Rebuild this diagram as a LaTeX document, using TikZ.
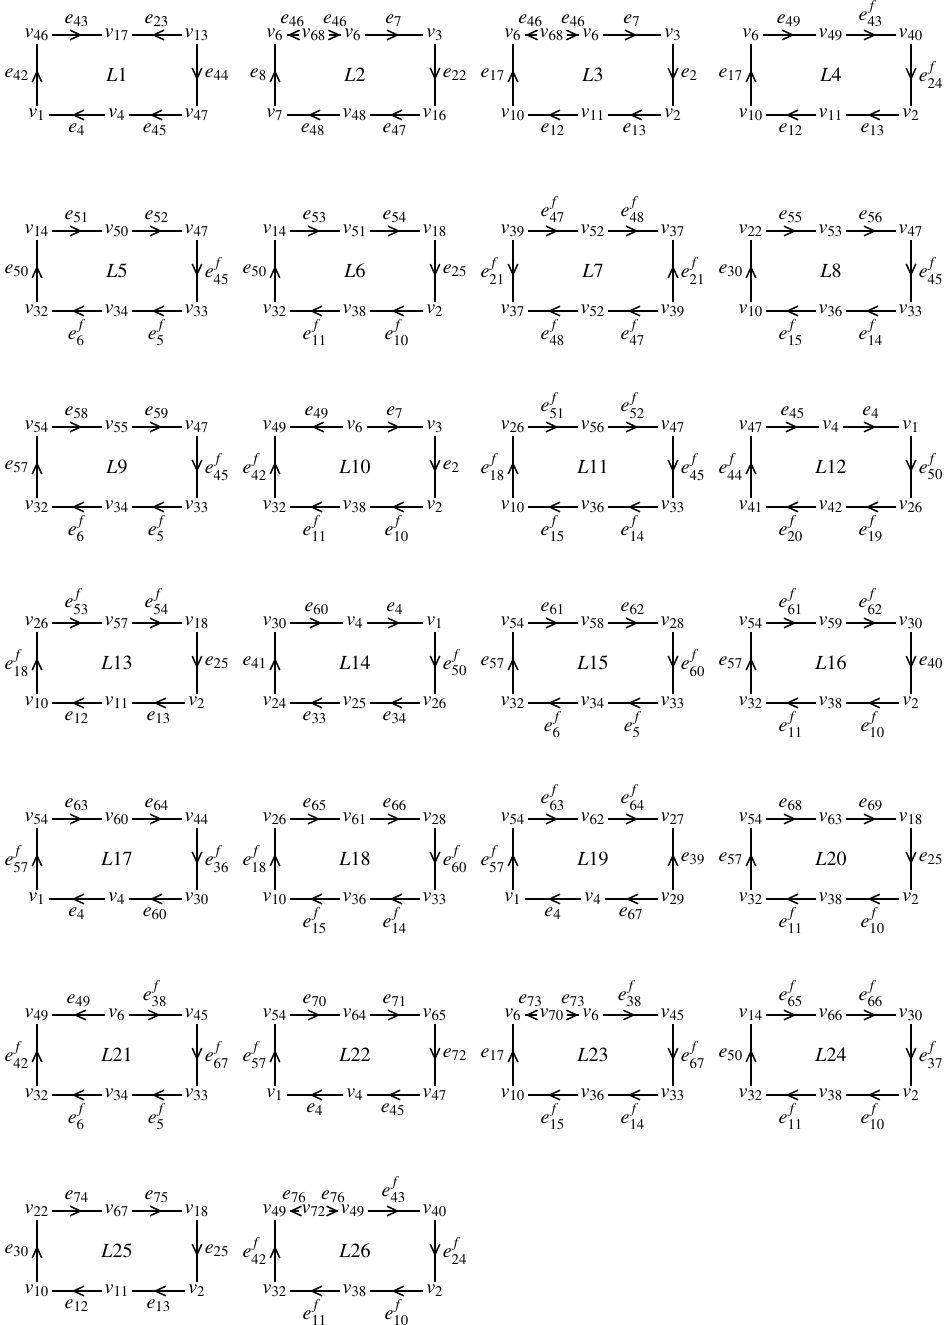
\documentclass[tikz,border=0pt]{standalone}
\usepackage{mathptmx}
\usetikzlibrary{arrows.meta,decorations.markings}
\tikzset{
  vn/.style={inner sep=1.5pt, outer sep=0pt},
  lname/.style={inner sep=0pt},
  elab/.style={inner sep=3.5pt},
  tlab/.style={above, inner sep=3.8pt},
  blab/.style={below, inner sep=3.8pt},
  ed/.style={line width=0.75pt, postaction={decorate},
    decoration={markings, mark=at position 0.5 with {\arrow[xshift=2.6pt]{Straight Barb[length=5.2pt,width=4.8pt,line width=0.75pt]}}}},
}
\newcommand\lpTop[3]{%
  \node[vn] (tl) at (0,0) {$#1$};
  \node[vn] (tm) at (80,0) {$#2$};
  \node[vn] (tr) at (160,0) {$#3$};}
\newcommand\lpTopx[4]{%
  \node[vn] (tl) at (0,0) {$#1$};
  \node[vn] (tx) at (39,0) {$#2$};
  \node[vn] (tm) at (78,0) {$#3$};
  \node[vn] (tr) at (160,0) {$#4$};}
\newcommand\lpBot[4]{%
  \node[vn] (bl) at (0,80) {$#2$};
  \node[vn] (bm) at (80,80) {$#3$};
  \node[vn] (br) at (160,80) {$#4$};
  \node[lname] (c) at (80,40) {$#1$};}
\newcommand\lpEd[4]{\draw[ed] (#1) -- node[elab,#3]{$#4$} (#2);}
\newcommand\lpStd[6]{%
  \lpEd{tl}{tm}{tlab}{#1}\lpEd{tm}{tr}{tlab}{#2}\lpEd{tr}{br}{right}{#3}%
  \lpEd{br}{bm}{blab}{#4}\lpEd{bm}{bl}{blab}{#5}\lpEd{bl}{tl}{left}{#6}}
\newcommand\lpLow[4]{%
  \lpEd{tr}{br}{right}{#1}\lpEd{br}{bm}{blab}{#2}\lpEd{bm}{bl}{blab}{#3}\lpEd{bl}{tl}{left}{#4}}
\begin{document}
\begin{tikzpicture}[x=0.5pt,y=-0.5pt]
\useasboundingbox (0,0) rectangle (945,1325);
% Row 1
\begin{scope}[shift={(37,35)},name prefix=L1-]
  \lpTop{v_{46}}{v_{17}}{v_{13}}\lpBot{L1}{v_1}{v_4}{v_{47}}
  \lpEd{tl}{tm}{tlab}{e_{43}}\lpEd{tr}{tm}{tlab}{e_{23}}
  \lpLow{e_{44}}{e_{45}}{e_4}{e_{42}}
\end{scope}
\begin{scope}[shift={(275,35)},name prefix=L2-]
  \lpTopx{v_6}{v_{68}}{v_6}{v_3}\lpBot{L2}{v_7}{v_{48}}{v_{16}}
  \lpEd{tx}{tl}{tlab}{e_{46}}\lpEd{tx}{tm}{tlab}{e_{46}}\lpEd{tm}{tr}{tlab}{e_7}
  \lpLow{e_{22}}{e_{47}}{e_{48}}{e_8}
\end{scope}
\begin{scope}[shift={(513,35)},name prefix=L3-]
  \lpTopx{v_6}{v_{68}}{v_6}{v_3}\lpBot{L3}{v_{10}}{v_{11}}{v_2}
  \lpEd{tx}{tl}{tlab}{e_{46}}\lpEd{tx}{tm}{tlab}{e_{46}}\lpEd{tm}{tr}{tlab}{e_7}
  \lpLow{e_2}{e_{13}}{e_{12}}{e_{17}}
\end{scope}
\begin{scope}[shift={(751,35)},name prefix=L4-]
  \lpTop{v_6}{v_{49}}{v_{40}}\lpBot{L4}{v_{10}}{v_{11}}{v_2}
  \lpStd{e_{49}}{e^f_{43}}{e^f_{24}}{e_{13}}{e_{12}}{e_{17}}
\end{scope}
% Row 2
\begin{scope}[shift={(37,231)},name prefix=L5-]
  \lpTop{v_{14}}{v_{50}}{v_{47}}\lpBot{L5}{v_{32}}{v_{34}}{v_{33}}
  \lpStd{e_{51}}{e_{52}}{e^f_{45}}{e^f_5}{e^f_6}{e_{50}}
\end{scope}
\begin{scope}[shift={(275,231)},name prefix=L6-]
  \lpTop{v_{14}}{v_{51}}{v_{18}}\lpBot{L6}{v_{32}}{v_{38}}{v_2}
  \lpStd{e_{53}}{e_{54}}{e_{25}}{e^f_{10}}{e^f_{11}}{e_{50}}
\end{scope}
\begin{scope}[shift={(513,231)},name prefix=L7-]
  \lpTop{v_{39}}{v_{52}}{v_{37}}\lpBot{L7}{v_{37}}{v_{52}}{v_{39}}
  \lpEd{tl}{tm}{tlab}{e^f_{47}}\lpEd{tm}{tr}{tlab}{e^f_{48}}
  \lpEd{br}{tr}{right}{e^f_{21}}\lpEd{br}{bm}{blab}{e^f_{47}}
  \lpEd{bm}{bl}{blab}{e^f_{48}}\lpEd{tl}{bl}{left}{e^f_{21}}
\end{scope}
\begin{scope}[shift={(751,231)},name prefix=L8-]
  \lpTop{v_{22}}{v_{53}}{v_{47}}\lpBot{L8}{v_{10}}{v_{36}}{v_{33}}
  \lpStd{e_{55}}{e_{56}}{e^f_{45}}{e^f_{14}}{e^f_{15}}{e_{30}}
\end{scope}
% Row 3
\begin{scope}[shift={(37,427)},name prefix=L9-]
  \lpTop{v_{54}}{v_{55}}{v_{47}}\lpBot{L9}{v_{32}}{v_{34}}{v_{33}}
  \lpStd{e_{58}}{e_{59}}{e^f_{45}}{e^f_5}{e^f_6}{e_{57}}
\end{scope}
\begin{scope}[shift={(275,427)},name prefix=L10-]
  \lpTop{v_{49}}{v_6}{v_3}\lpBot{L10}{v_{32}}{v_{38}}{v_2}
  \lpEd{tm}{tl}{tlab}{e_{49}}\lpEd{tm}{tr}{tlab}{e_7}
  \lpLow{e_2}{e^f_{10}}{e^f_{11}}{e^f_{42}}
\end{scope}
\begin{scope}[shift={(513,427)},name prefix=L11-]
  \lpTop{v_{26}}{v_{56}}{v_{47}}\lpBot{L11}{v_{10}}{v_{36}}{v_{33}}
  \lpStd{e^f_{51}}{e^f_{52}}{e^f_{45}}{e^f_{14}}{e^f_{15}}{e^f_{18}}
\end{scope}
\begin{scope}[shift={(751,427)},name prefix=L12-]
  \lpTop{v_{47}}{v_4}{v_1}\lpBot{L12}{v_{41}}{v_{42}}{v_{26}}
  \lpStd{e_{45}}{e_4}{e^f_{50}}{e^f_{19}}{e^f_{20}}{e^f_{44}}
\end{scope}
% Row 4
\begin{scope}[shift={(37,623)},name prefix=L13-]
  \lpTop{v_{26}}{v_{57}}{v_{18}}\lpBot{L13}{v_{10}}{v_{11}}{v_2}
  \lpStd{e^f_{53}}{e^f_{54}}{e_{25}}{e_{13}}{e_{12}}{e^f_{18}}
\end{scope}
\begin{scope}[shift={(275,623)},name prefix=L14-]
  \lpTop{v_{30}}{v_4}{v_1}\lpBot{L14}{v_{24}}{v_{25}}{v_{26}}
  \lpStd{e_{60}}{e_4}{e^f_{50}}{e_{34}}{e_{33}}{e_{41}}
\end{scope}
\begin{scope}[shift={(513,623)},name prefix=L15-]
  \lpTop{v_{54}}{v_{58}}{v_{28}}\lpBot{L15}{v_{32}}{v_{34}}{v_{33}}
  \lpStd{e_{61}}{e_{62}}{e^f_{60}}{e^f_5}{e^f_6}{e_{57}}
\end{scope}
\begin{scope}[shift={(751,623)},name prefix=L16-]
  \lpTop{v_{54}}{v_{59}}{v_{30}}\lpBot{L16}{v_{32}}{v_{38}}{v_2}
  \lpStd{e^f_{61}}{e^f_{62}}{e_{40}}{e^f_{10}}{e^f_{11}}{e_{57}}
\end{scope}
% Row 5
\begin{scope}[shift={(37,819)},name prefix=L17-]
  \lpTop{v_{54}}{v_{60}}{v_{44}}\lpBot{L17}{v_1}{v_4}{v_{30}}
  \lpStd{e_{63}}{e_{64}}{e^f_{36}}{e_{60}}{e_4}{e^f_{57}}
\end{scope}
\begin{scope}[shift={(275,819)},name prefix=L18-]
  \lpTop{v_{26}}{v_{61}}{v_{28}}\lpBot{L18}{v_{10}}{v_{36}}{v_{33}}
  \lpStd{e_{65}}{e_{66}}{e^f_{60}}{e^f_{14}}{e^f_{15}}{e^f_{18}}
\end{scope}
\begin{scope}[shift={(513,819)},name prefix=L19-]
  \lpTop{v_{54}}{v_{62}}{v_{27}}\lpBot{L19}{v_1}{v_4}{v_{29}}
  \lpEd{tl}{tm}{tlab}{e^f_{63}}\lpEd{tm}{tr}{tlab}{e^f_{64}}
  \lpEd{br}{tr}{right}{e_{39}}\lpEd{br}{bm}{blab}{e_{67}}
  \lpEd{bm}{bl}{blab}{e_4}\lpEd{bl}{tl}{left}{e^f_{57}}
\end{scope}
\begin{scope}[shift={(751,819)},name prefix=L20-]
  \lpTop{v_{54}}{v_{63}}{v_{18}}\lpBot{L20}{v_{32}}{v_{38}}{v_2}
  \lpStd{e_{68}}{e_{69}}{e_{25}}{e^f_{10}}{e^f_{11}}{e_{57}}
\end{scope}
% Row 6
\begin{scope}[shift={(37,1015)},name prefix=L21-]
  \lpTop{v_{49}}{v_6}{v_{45}}\lpBot{L21}{v_{32}}{v_{34}}{v_{33}}
  \lpEd{tm}{tl}{tlab}{e_{49}}\lpEd{tm}{tr}{tlab}{e^f_{38}}
  \lpLow{e^f_{67}}{e^f_5}{e^f_6}{e^f_{42}}
\end{scope}
\begin{scope}[shift={(275,1015)},name prefix=L22-]
  \lpTop{v_{54}}{v_{64}}{v_{65}}\lpBot{L22}{v_1}{v_4}{v_{47}}
  \lpStd{e_{70}}{e_{71}}{e_{72}}{e_{45}}{e_4}{e^f_{57}}
\end{scope}
\begin{scope}[shift={(513,1015)},name prefix=L23-]
  \lpTopx{v_6}{v_{70}}{v_6}{v_{45}}\lpBot{L23}{v_{10}}{v_{36}}{v_{33}}
  \lpEd{tx}{tl}{tlab}{e_{73}}\lpEd{tx}{tm}{tlab}{e_{73}}\lpEd{tm}{tr}{tlab}{e^f_{38}}
  \lpLow{e^f_{67}}{e^f_{14}}{e^f_{15}}{e_{17}}
\end{scope}
\begin{scope}[shift={(751,1015)},name prefix=L24-]
  \lpTop{v_{14}}{v_{66}}{v_{30}}\lpBot{L24}{v_{32}}{v_{38}}{v_2}
  \lpStd{e^f_{65}}{e^f_{66}}{e^f_{37}}{e^f_{10}}{e^f_{11}}{e_{50}}
\end{scope}
% Row 7
\begin{scope}[shift={(37,1211)},name prefix=L25-]
  \lpTop{v_{22}}{v_{67}}{v_{18}}\lpBot{L25}{v_{10}}{v_{11}}{v_2}
  \lpStd{e_{74}}{e_{75}}{e_{25}}{e_{13}}{e_{12}}{e_{30}}
\end{scope}
\begin{scope}[shift={(275,1211)},name prefix=L26-]
  \lpTopx{v_{49}}{v_{72}}{v_{49}}{v_{40}}\lpBot{L26}{v_{32}}{v_{38}}{v_2}
  \lpEd{tx}{tl}{tlab}{e_{76}}\lpEd{tx}{tm}{tlab}{e_{76}}\lpEd{tm}{tr}{tlab}{e^f_{43}}
  \lpLow{e^f_{24}}{e^f_{10}}{e^f_{11}}{e^f_{42}}
\end{scope}
\end{tikzpicture}
\end{document}
